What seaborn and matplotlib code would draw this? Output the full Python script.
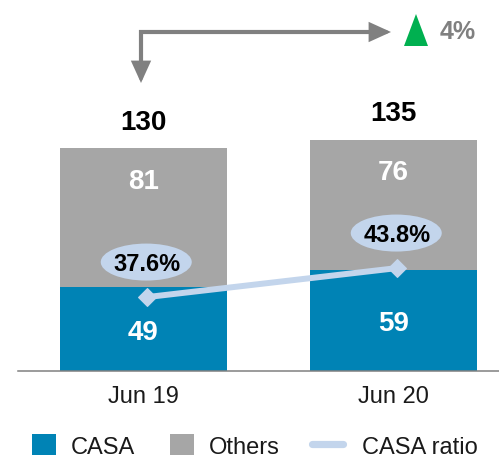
import matplotlib
matplotlib.use("Agg")
import matplotlib.pyplot as plt
import seaborn as sns
from matplotlib.patches import FancyArrowPatch, Polygon, Patch, Ellipse
from matplotlib.lines import Line2D
from matplotlib.path import Path
from matplotlib.transforms import Affine2D, ScaledTranslation

# Deposit mix (bn) and CASA ratio (%)
periods = ["Jun 19", "Jun 20"]
casa = [49, 59]
others = [81, 76]
casa_ratio = [37.6, 43.8]
growth_label = "4%"
legend_labels = ["CASA", "Others", "CASA ratio"]

BLUE = "#0083B5"
GREY = "#A6A6A6"
LIGHT = "#C3D5EC"
ARROW = "#808080"
GREEN = "#00B050"

sns.set_theme(style="white")
plt.rcParams["font.family"] = ["Liberation Sans", "DejaVu Sans"]

W, H = 499, 460
fig = plt.figure(figsize=(W / 100, H / 100), dpi=100)
ax = fig.add_axes([18 / W, 88 / H, 481 / W, 372 / H])

totals = [c + o for c, o in zip(casa, others)]

# stacked bars: full total in grey, CASA portion in blue on top of it
sns.barplot(x=periods, y=totals, color=GREY, saturation=1, width=0.67,
            ax=ax, linewidth=0)
sns.barplot(x=periods, y=casa, color=BLUE, saturation=1, width=0.67,
            ax=ax, linewidth=0)

# CASA ratio line on its own scale
ax2 = ax.twinx()
xpos = [i + 0.015 for i in range(len(periods))]
sns.lineplot(x=xpos, y=casa_ratio, ax=ax2, color=LIGHT,
             lw=4.3, marker="D", markersize=9, markeredgecolor=LIGHT,
             legend=False)
ax2.set_ylim(21.8, 101.3)
ax2.set_axis_off()

ax.set_xlim(-0.502, 1.422)
ax.set_ylim(0, 217)
ax.set_xlabel("")
ax.set_ylabel("")
ax.set_yticks([])
for side in ("top", "left", "right"):
    ax.spines[side].set_visible(False)
ax.spines["bottom"].set_color(ARROW)
ax.spines["bottom"].set_linewidth(1.1)
ax.tick_params(axis="x", length=0, pad=10, labelsize=17, labelcolor="#1a1a1a")

for i, (c, o, t) in enumerate(zip(casa, others, totals)):
    ax.annotate(str(t), (i, t), xytext=(0, 19), textcoords="offset points",
                ha="center", va="center", fontsize=20, fontweight="bold",
                color="black")
    ax.annotate(str(o), (i, t), xytext=(0, -23.5), textcoords="offset points",
                ha="center", va="center", fontsize=20, fontweight="bold",
                color="white")
    ax.annotate(str(c), (i, c / 2), xytext=(0, -2), textcoords="offset points",
                ha="center", va="center", fontsize=20, fontweight="bold",
                color="white")

# ratio badges: pale ellipse above each point with the value inside
for x, r in zip(xpos, casa_ratio):
    badge = Ellipse((0, 0), 91, 37, fc=LIGHT, ec="none",
                    transform=Affine2D().translate(-1, 35)
                    + ScaledTranslation(x, r, ax2.transData))
    ax2.add_artist(badge)
    ax2.annotate(f"{r:.1f}%", (x, r), xytext=(0, 24), textcoords="offset points",
                 ha="center", va="center", fontsize=17, fontweight="bold",
                 color="black")


def fx(px):
    return px / W


def fy(py):
    return 1 - py / H


# growth connector from the first total to the growth badge
path = Path([(fx(141), fy(84)), (fx(141), fy(33)), (fx(391), fy(33))])
arrow = FancyArrowPatch(path=path, arrowstyle="<|-|>,head_length=1.1,head_width=0.5",
                        mutation_scale=10, color=ARROW, lw=3,
                        transform=fig.transFigure, joinstyle="miter")
fig.add_artist(arrow)
tri = Polygon([(fx(404), fy(47)), (fx(428), fy(47)), (fx(416), fy(15))],
              closed=True, fc=GREEN, ec="none", transform=fig.transFigure)
fig.add_artist(tri)
fig.text(fx(440), fy(32), growth_label, ha="left", va="center", fontsize=18,
         fontweight="bold", color=ARROW)

# legend: bar series and the ratio line are laid out as two groups
common = dict(loc="center left", frameon=False, fontsize=17, handleheight=1.0,
              borderaxespad=0, borderpad=0, labelcolor="#1a1a1a")
bar_legend = fig.legend(
    [Patch(fc=BLUE, ec="none"), Patch(fc=GREY, ec="none")], legend_labels[:2],
    bbox_to_anchor=(fx(32), fy(447)), ncol=2, handlelength=1.0,
    handletextpad=0.64, columnspacing=1.48, **common)
fig.legend(
    [Line2D([], [], color=LIGHT, lw=5.2)], legend_labels[2:],
    bbox_to_anchor=(fx(312), fy(447)), ncol=1, handlelength=1.31,
    handletextpad=0.8, **common)

fig.savefig("out.png", dpi=100)
